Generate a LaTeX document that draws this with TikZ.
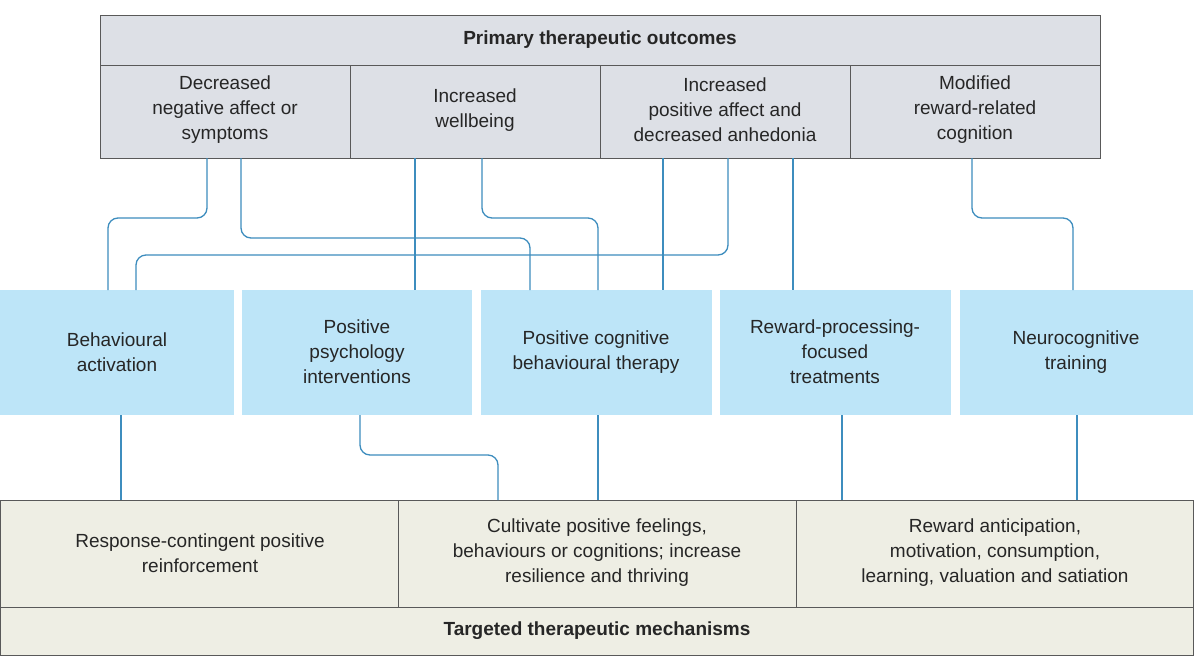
\documentclass[tikz,border=0pt]{standalone}
\usepackage{fontspec}
\setmainfont{Liberation Sans}
\begin{document}
\begin{tikzpicture}[x=1pt,y=-1pt,
  txt/.style={font=\fontsize{19}{25}\selectfont,align=center,text=black!85},
  topc/.style={draw=gray!70!black,fill=topfill,line width=1pt},
  mid/.style={fill=midfill,draw=none},
  bot/.style={draw=gray!70!black,fill=botfill,line width=1pt},
  con/.style={draw=linec,line width=1.3pt,rounded corners=10pt}]
\definecolor{topfill}{HTML}{DDE0E6}
\definecolor{midfill}{HTML}{BDE5F8}
\definecolor{botfill}{HTML}{EEEEE4}
\definecolor{linec}{HTML}{3D8DBE}
\useasboundingbox (0,0) rectangle (1200,665);
\fill[white] (0,0) rectangle (1200,665);
% top
\draw[topc] (100,15) rectangle (1100,65);
\node[txt,font=\fontsize{19}{25}\selectfont\bfseries] (th) at (600,40) {Primary therapeutic outcomes};
\draw[topc] (100,65) rectangle (350,158);
\draw[topc] (350,65) rectangle (600,158);
\draw[topc] (600,65) rectangle (850,158);
\draw[topc] (850,65) rectangle (1100,158);
\node[txt] (o1) at (225,110) {Decreased\\negative affect or\\symptoms};
\node[txt] (o2) at (475,110) {Increased\\wellbeing};
\node[txt] (o3) at (725,110) {Increased\\positive affect and\\decreased anhedonia};
\node[txt] (o4) at (975,110) {Modified\\reward-related\\cognition};
% middle
\fill[midfill] (0,290) rectangle (234,415);
\fill[midfill] (242,290) rectangle (472,415);
\fill[midfill] (481,290) rectangle (712,415);
\fill[midfill] (720,290) rectangle (951,415);
\fill[midfill] (960,290) rectangle (1193,415);
\node[txt] (m1) at (117,352) {Behavioural\\activation};
\node[txt] (m2) at (357,352) {Positive\\psychology\\interventions};
\node[txt] (m3) at (596,352) {Positive cognitive\\behavioural therapy};
\node[txt] (m4) at (835,352) {Reward-processing-\\focused\\treatments};
\node[txt] (m5) at (1076,352) {Neurocognitive\\training};
% bottom
\draw[bot] (0,500) rectangle (398,607);
\draw[bot] (398,500) rectangle (796,607);
\draw[bot] (796,500) rectangle (1193,607);
\draw[bot] (0,607) rectangle (1193,655);
\node[txt] (b1) at (200,553) {Response-contingent positive\\reinforcement};
\node[txt] (b2) at (597,553) {Cultivate positive feelings,\\behaviours or cognitions; increase\\resilience and thriving};
\node[txt] (b3) at (995,553) {Reward anticipation,\\motivation, consumption,\\learning, valuation and satiation};
\node[txt,font=\fontsize{19}{25}\selectfont\bfseries] (bh) at (597,631) {Targeted therapeutic mechanisms};
% top connectors
\draw[con] (207,158) -- (207,218) -- (108,218) -- (108,290);
\draw[con] (241,158) -- (241,238) -- (530,238) -- (530,290);
\draw[con] (415,158) -- (415,290);
\draw[con] (482,158) -- (482,218) -- (598,218) -- (598,290);
\draw[con] (663,158) -- (663,290);
\draw[con] (728,158) -- (728,255) -- (136,255) -- (136,290);
\draw[con] (793,158) -- (793,290);
\draw[con] (972,158) -- (972,218) -- (1073,218) -- (1073,290);
% bottom connectors
\draw[con] (121,415) -- (121,500);
\draw[con] (360,415) -- (360,455) -- (498,455) -- (498,500);
\draw[con] (598,415) -- (598,500);
\draw[con] (842,415) -- (842,500);
\draw[con] (1077,415) -- (1077,500);
\end{tikzpicture}
\end{document}
